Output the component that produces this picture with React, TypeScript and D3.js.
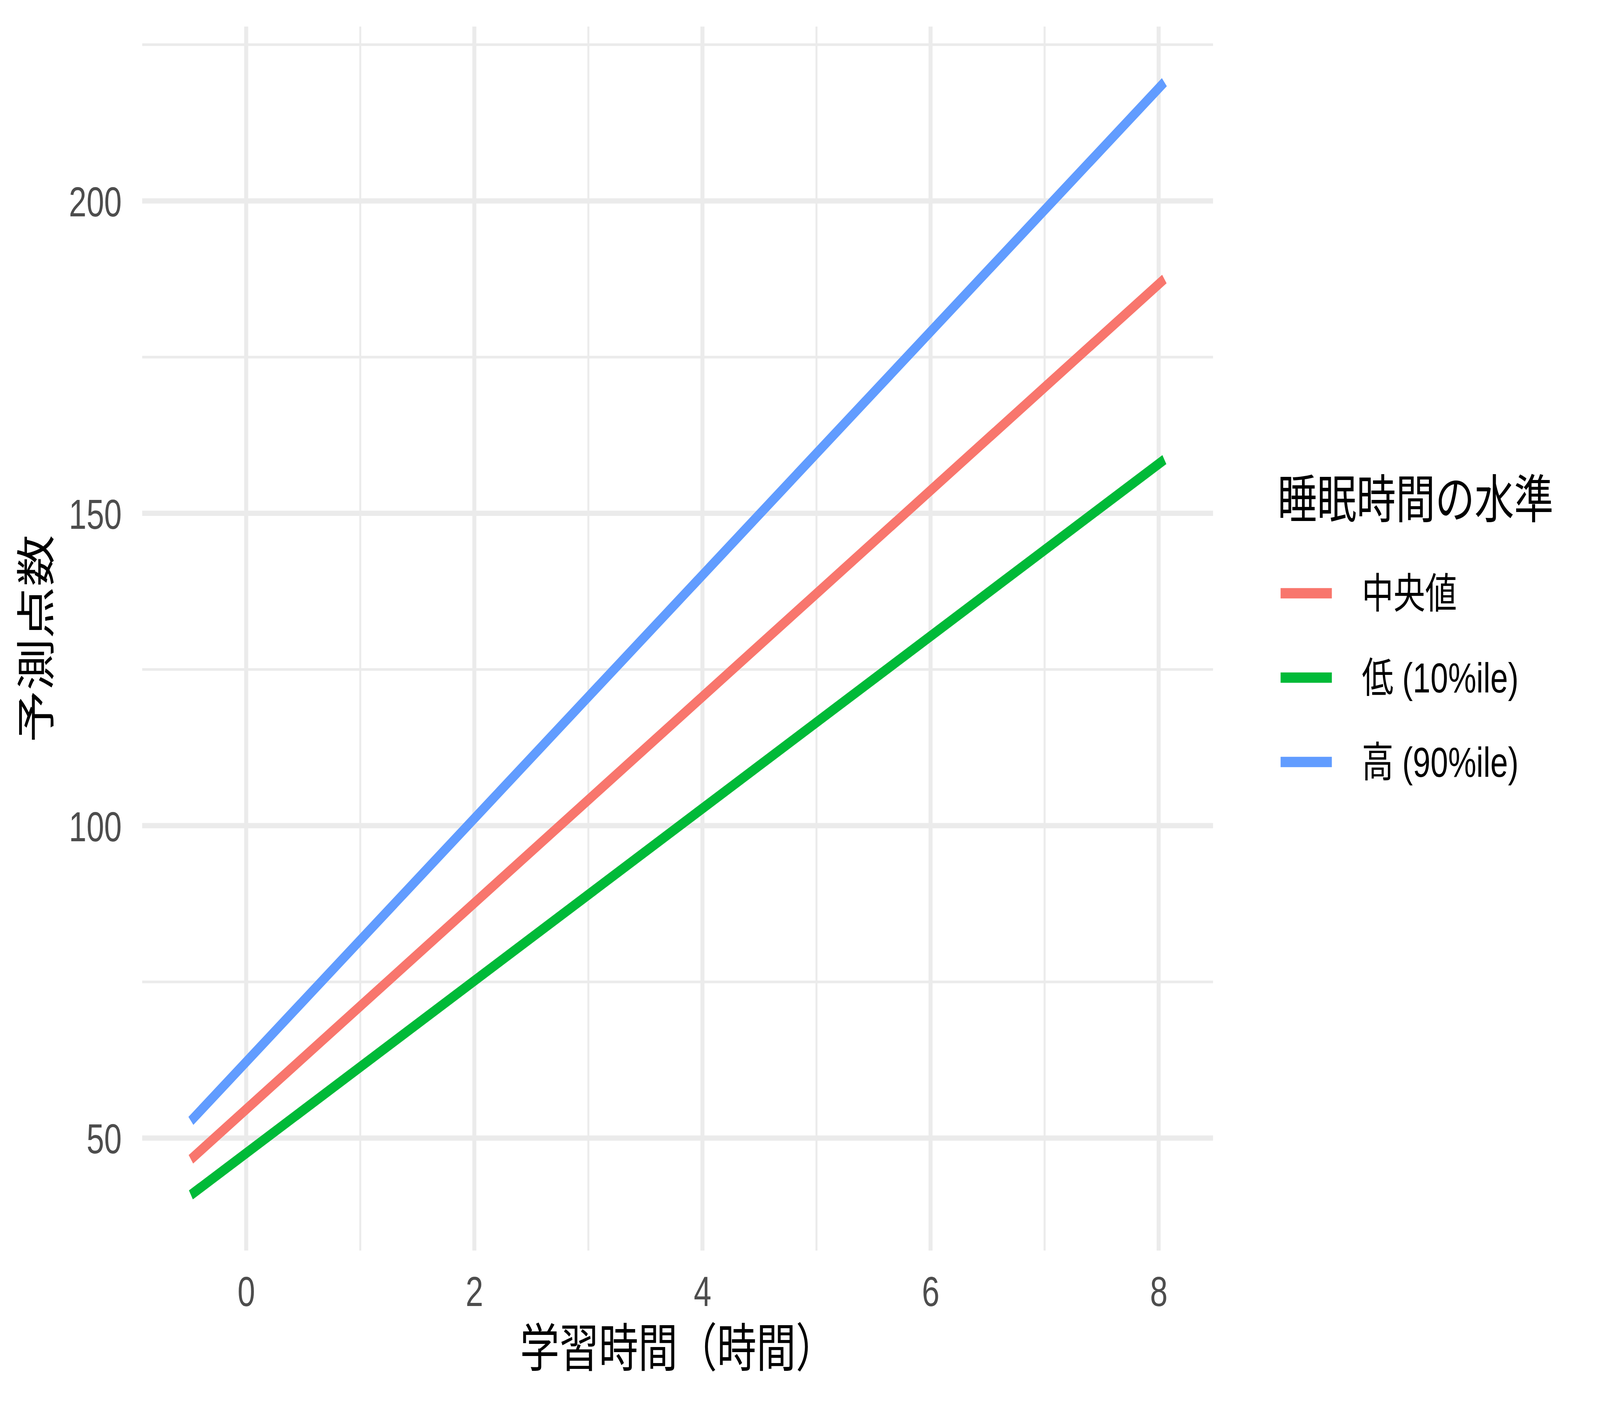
import React, { useEffect, useRef } from 'react';
import * as d3 from 'd3';

// 学習時間の両端と各水準の予測点数
const studyHours = [-0.485, 8.05];
const sleepLevels = ['中央値', '低 (10%ile)', '高 (90%ile)'];
const predMedian = [46.6, 187.5];
const predLow = [40.9, 158.6];
const predHigh = [52.75, 219.0];
const levelColors = ['#F8766D', '#00BA38', '#619CFF'];

const xTicks = [0, 2, 4, 6, 8];
const xMinorTicks = [1, 3, 5, 7];
const yTicks = [50, 100, 150, 200];
const yMinorTicks = [75, 125, 175, 225];

const FONT = '"Liberation Sans", Arial, "Noto Sans CJK JP", sans-serif';

export default function App() {
  const svgRef = useRef<SVGSVGElement>(null);

  useEffect(() => {
    if (!svgRef.current) return;
    const svg = d3.select(svgRef.current);
    svg.selectAll('*').remove();

    const width = 5400;
    const height = 3600;
    const panel = { left: 480, right: 4094, top: 68, bottom: 3202 };

    const series = [predMedian, predLow, predHigh];
    const allY = series.flat();

    const [x0, x1] = d3.extent(studyHours) as [number, number];
    const [y0, y1] = d3.extent(allY) as [number, number];
    const xPad = (x1 - x0) * 0.05;
    const yPad = (y1 - y0) * 0.05;

    const x = d3.scaleLinear().domain([x0 - xPad, x1 + xPad]).range([panel.left, panel.right]);
    const y = d3.scaleLinear().domain([y0 - yPad, y1 + yPad]).range([panel.bottom, panel.top]);

    svg.append('rect').attr('width', width).attr('height', height).attr('fill', '#ffffff');

    const grid = svg.append('g');
    grid.selectAll('line.ymin')
      .data(yMinorTicks)
      .enter()
      .append('line')
      .attr('x1', panel.left).attr('x2', panel.right)
      .attr('y1', d => y(d)).attr('y2', d => y(d))
      .attr('stroke', '#EBEBEB').attr('stroke-width', 6.7);
    grid.selectAll('line.xmin')
      .data(xMinorTicks)
      .enter()
      .append('line')
      .attr('y1', panel.top).attr('y2', panel.bottom)
      .attr('x1', d => x(d)).attr('x2', d => x(d))
      .attr('stroke', '#EBEBEB').attr('stroke-width', 6.7);
    grid.selectAll('line.ymaj')
      .data(yTicks)
      .enter()
      .append('line')
      .attr('x1', panel.left).attr('x2', panel.right)
      .attr('y1', d => y(d)).attr('y2', d => y(d))
      .attr('stroke', '#EBEBEB').attr('stroke-width', 13.5);
    grid.selectAll('line.xmaj')
      .data(xTicks)
      .enter()
      .append('line')
      .attr('y1', panel.top).attr('y2', panel.bottom)
      .attr('x1', d => x(d)).attr('x2', d => x(d))
      .attr('stroke', '#EBEBEB').attr('stroke-width', 13.5);

    const line = d3.line<number>()
      .x((_, i) => x(studyHours[i]))
      .y(d => y(d));

    svg.append('g')
      .selectAll('path')
      .data(series)
      .enter()
      .append('path')
      .attr('d', d => line(d))
      .attr('fill', 'none')
      .attr('stroke', (_, i) => levelColors[i])
      .attr('stroke-width', 26.6)
      .attr('stroke-linecap', 'butt');

    // axes (ticks and domain hidden, labels only)
    const xAxis = svg.append('g')
      .attr('transform', `translate(0,${panel.bottom})`)
      .call(d3.axisBottom(x).tickValues(xTicks).tickSize(0).tickPadding(0).tickFormat(d3.format('d')));
    xAxis.select('.domain').remove();
    xAxis.selectAll('text')
      .attr('y', 3344 - panel.bottom)
      .attr('dy', null)
      .attr('fill', '#4D4D4D')
      .style('font-family', FONT)
      .style('font-size', '107px');

    const yAxis = svg.append('g')
      .attr('transform', `translate(${panel.left},0)`)
      .call(d3.axisLeft(y).tickValues(yTicks).tickSize(0).tickPadding(0).tickFormat(d3.format('d')));
    yAxis.select('.domain').remove();
    yAxis.selectAll('text')
      .attr('x', 411 - panel.left)
      .attr('dy', '39px')
      .attr('fill', '#4D4D4D')
      .style('font-family', FONT)
      .style('font-size', '107px');

    svg.append('text')
      .attr('x', (panel.left + panel.right) / 2)
      .attr('y', 3499)
      .attr('text-anchor', 'middle')
      .style('font-family', FONT)
      .style('font-size', '133px')
      .attr('fill', '#000')
      .text('学習時間（時間）');

    svg.append('text')
      .attr('transform', `translate(170,${(panel.top + panel.bottom) / 2}) rotate(-90)`)
      .attr('text-anchor', 'middle')
      .style('font-family', FONT)
      .style('font-size', '133px')
      .attr('fill', '#000')
      .text('予測点数');

    // legend
    const legend = svg.append('g');
    legend.append('text')
      .attr('x', 4312)
      .attr('y', 1326)
      .style('font-family', FONT)
      .style('font-size', '133px')
      .attr('fill', '#000')
      .text('睡眠時間の水準');

    const keyY = d3.scalePoint<string>().domain(sleepLevels).range([1519, 1951]);
    const items = legend.selectAll('g.item')
      .data(sleepLevels)
      .enter()
      .append('g')
      .attr('transform', d => `translate(0,${keyY(d)})`);
    items.append('line')
      .attr('x1', 4322).attr('x2', 4495)
      .attr('y1', 0).attr('y2', 0)
      .attr('stroke', (_, i) => levelColors[i])
      .attr('stroke-width', 26.6);
    items.append('text')
      .attr('x', 4596)
      .attr('y', 38)
      .style('font-family', FONT)
      .style('font-size', '107px')
      .attr('fill', '#000')
      .text(d => d);
  }, []);

  // the window is narrower than 5400px, so the 5400x3600 drawing is fitted to it
  return (
    <svg
      ref={svgRef}
      viewBox="0 0 5400 3600"
      preserveAspectRatio="none"
      style={{ position: 'absolute', left: 0, top: 0, width: '100vw', height: '100vh', display: 'block' }}
    />
  );
}
